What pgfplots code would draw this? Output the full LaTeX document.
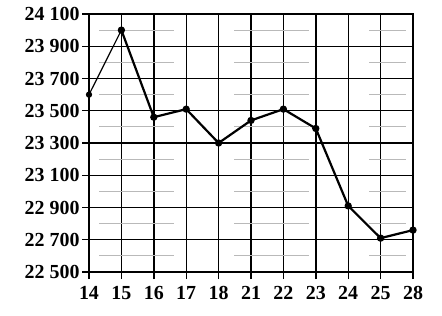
\documentclass[border=0pt]{standalone}
\usepackage{fontspec}
\setmainfont{Liberation Serif}
\usepackage{pgfplots}
\pgfplotsset{compat=1.18}
\begin{document}
\begin{tikzpicture}[x=1bp,y=1bp]
\begin{axis}[
  at={(0,0)}, anchor=south west,
  scale only axis, width=324bp, height=258bp,
  xmin=0, xmax=10, ymin=22500, ymax=24100,
  scaled y ticks=false,
  xtick={0,1,2,3,4,5,6,7,8,9,10},
  xticklabels={14,15,16,17,18,21,22,23,24,25,28},
  ytick={22500,22700,22900,23100,23300,23500,23700,23900,24100},
  yticklabels={22 500,22 700,22 900,23 100,23 300,23 500,23 700,23 900,24 100},
  tick align=outside,
  major tick length=7bp,
  x tick style={black, line width=1.4bp},
  y tick style={black, line width=1.4bp},
  xtick pos=bottom, ytick pos=left,
  grid=major,
  major grid style={black, line width=1.4bp},
  axis line style={black, line width=1.4bp},
  ticklabel style={font=\fontsize{20}{22}\selectfont\bfseries},
  xticklabel style={yshift=-4bp},
  yticklabel style={xshift=1bp},
  clip=false,
]
\addplot[gray!55, line width=1.2bp, empty line=jump] table[x=x,y=y] {
x y
0.31 24000
2.62 24000

4.48 24000
6.80 24000

8.65 24000
9.78 24000

0.31 23800
2.62 23800

4.48 23800
6.80 23800

8.65 23800
9.78 23800

0.31 23600
2.62 23600

4.48 23600
6.80 23600

8.65 23600
9.78 23600

0.31 23400
2.62 23400

4.48 23400
6.80 23400

8.65 23400
9.78 23400

0.31 23200
2.62 23200

4.48 23200
6.80 23200

8.65 23200
9.78 23200

0.31 23000
2.62 23000

4.48 23000
6.80 23000

8.65 23000
9.78 23000

0.31 22800
2.62 22800

4.48 22800
6.80 22800

8.65 22800
9.78 22800

0.31 22600
2.62 22600

4.48 22600
6.80 22600

8.65 22600
9.78 22600
};
\addplot[black, line width=1.2bp, mark=*, mark size=2.5bp] coordinates {(0,23600) (1,24000)};
\addplot[black, line width=2.2bp, mark=*, mark size=2.5bp] coordinates {
(1,24000) (2,23460) (3,23510) (4,23300) (5,23440) (6,23510) (7,23390) (8,22910) (9,22710) (10,22760)};
\end{axis}
\pgfresetboundingbox
\useasboundingbox (-89,-43) rectangle (353,272);
\end{tikzpicture}
\end{document}
